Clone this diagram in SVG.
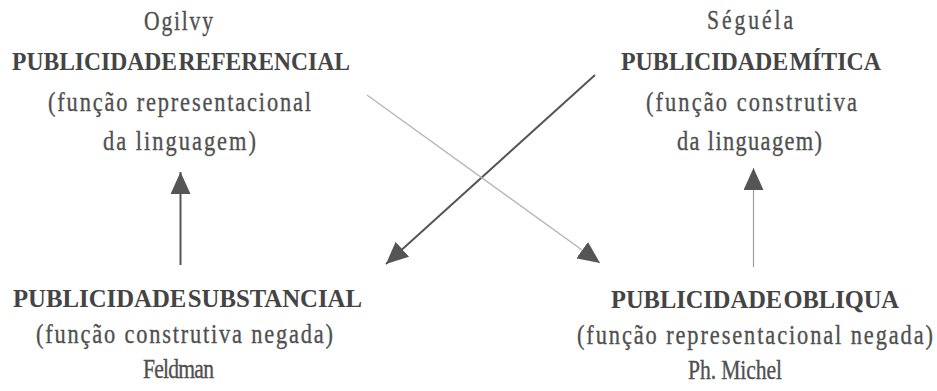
<svg xmlns="http://www.w3.org/2000/svg" width="937" height="391" viewBox="0 0 937 391">
<defs>
<style>
.t{font-family:"Liberation Serif","Times New Roman",serif;font-size:28px;fill:#505050;stroke:#505050;stroke-width:0.35;text-anchor:middle}
.n{font-family:"Liberation Serif","Times New Roman",serif;font-size:27px;fill:#505050;stroke:#505050;stroke-width:0.35;text-anchor:middle}
.b{font-family:"Liberation Serif","Times New Roman",serif;font-size:26px;font-weight:bold;fill:#444;text-anchor:middle;word-spacing:-5px}
.dark{stroke:#555;stroke-width:2;fill:none}
.light{stroke:#b5b5b5;stroke-width:1.3;fill:none}
.lightv{stroke:#a0a0a0;stroke-width:1.2;fill:none}
</style>
<marker id="ah" markerUnits="userSpaceOnUse" markerWidth="22" markerHeight="20" refX="22" refY="10" orient="auto" viewBox="0 0 22 20">
<path d="M0,0 L22,10 L0,20 z" fill="#555"/>
</marker>
</defs>
<rect width="937" height="391" fill="#fff"/>
<g id="n-referencial">
<text class="n" transform="scale(0.8 1)" x="223.125" y="30" textLength="86.25" lengthAdjust="spacing">Ogilvy</text>
<text class="b" x="181" y="70" textLength="338" lengthAdjust="spacingAndGlyphs">PUBLICIDADE REFERENCIAL</text>
<text class="t" transform="scale(0.8 1)" x="224.375" y="111" textLength="328.75" lengthAdjust="spacing">(função representacional</text>
<text class="t" transform="scale(0.8 1)" x="224.375" y="150" textLength="191.25" lengthAdjust="spacing">da linguagem)</text>
</g>
<g id="n-mitica">
<text class="n" transform="scale(0.8 1)" x="937.5" y="29" textLength="107.5" lengthAdjust="spacing">Séguéla</text>
<text class="b" x="751" y="70" textLength="260" lengthAdjust="spacingAndGlyphs">PUBLICIDADE MÍTICA</text>
<text class="t" transform="scale(0.8 1)" x="939.375" y="111" textLength="263.75" lengthAdjust="spacing">(função construtiva</text>
<text class="t" transform="scale(0.8 1)" x="936.875" y="150" textLength="181.25" lengthAdjust="spacing">da linguagem)</text>
</g>
<g id="n-substancial">
<text class="b" x="187.5" y="307" textLength="349" lengthAdjust="spacingAndGlyphs">PUBLICIDADE SUBSTANCIAL</text>
<text class="t" transform="scale(0.8 1)" x="230.625" y="343" textLength="371.25" lengthAdjust="spacing">(função construtiva negada)</text>
<text class="n" transform="scale(0.8 1)" x="223.125" y="378" textLength="88.75" lengthAdjust="spacing">Feldman</text>
</g>
<g id="n-obliqua">
<text class="b" x="755" y="308" textLength="288" lengthAdjust="spacingAndGlyphs">PUBLICIDADE OBLIQUA</text>
<text class="t" transform="scale(0.8 1)" x="943.75" y="344" textLength="445" lengthAdjust="spacing">(função representacional negada)</text>
<text class="n" transform="scale(0.8 1)" x="918.75" y="379" textLength="117.5" lengthAdjust="spacing">Ph. Michel</text>
</g>
<g id="connectors">
<line class="dark" x1="180.5" y1="265" x2="180.5" y2="172" marker-end="url(#ah)"/>
<line class="lightv" x1="753.5" y1="267" x2="753.5" y2="168" marker-end="url(#ah)"/>
<line class="dark" x1="595" y1="75" x2="386" y2="264" marker-end="url(#ah)"/>
<line class="light" x1="367" y1="95" x2="600" y2="263" marker-end="url(#ah)"/>
</g>
</svg>
